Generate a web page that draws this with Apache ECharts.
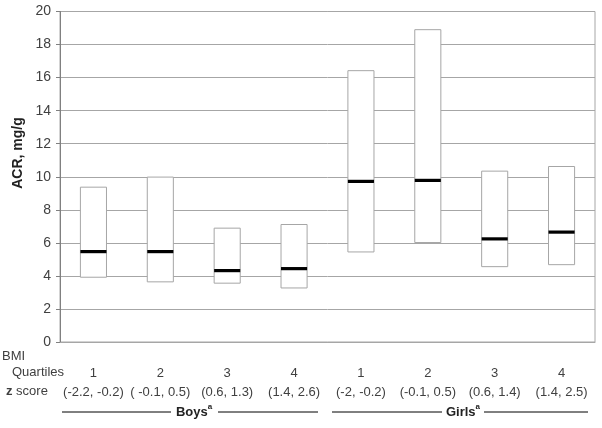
<!DOCTYPE html>
<html>
<head>
<meta charset="utf-8">
<script src="https://cdn.jsdelivr.net/npm/echarts@6/dist/echarts.min.js"></script>
<style>html,body{margin:0;padding:0;background:#fff}#c{width:602px;height:428px}</style>
</head>
<body>
<div id="c"></div>
<script>
var quartiles = ['1','2','3','4','1','2','3','4'];
var zScores = ['(-2.2, -0.2)','( -0.1, 0.5)','(0.6, 1.3)','(1.4, 2.6)','(-2, -0.2)','(-0.1, 0.5)','(0.6, 1.4)','(1.4, 2.5)'];
var lowValues = [3.92, 3.64, 3.56, 3.27, 5.45, 6.02, 4.56, 4.68];
var medianValues = [5.47, 5.47, 4.32, 4.44, 9.72, 9.78, 6.24, 6.65];
var highValues = [9.37, 9.98, 6.89, 7.11, 16.42, 18.9, 10.34, 10.62];
var yTicks = [0, 2, 4, 6, 8, 10, 12, 14, 16, 18, 20];

var categories = quartiles.map(function(q, i){ return q + '|' + zScores[i]; });
var data = categories.map(function(c, i){ return [i, lowValues[i], medianValues[i], highValues[i]]; });

var FONT = '"Liberation Sans", Arial, sans-serif';
var chart = echarts.init(document.getElementById('c'));

function renderItem(params, api) {
  var x = api.value(0);
  var lo = api.coord([x, api.value(1)]);
  var hi = api.coord([x, api.value(3)]);
  var med = api.coord([x, api.value(2)]);
  var w = api.size([1, 0])[0] * 0.39;
  return {
    type: 'group',
    children: [
      { type: 'rect', shape: { x: lo[0] - w / 2, y: hi[1], width: w, height: lo[1] - hi[1] },
        style: { fill: '#fff', stroke: '#a6a6a6', lineWidth: 1 } },
      { type: 'line', shape: { x1: med[0] - w / 2, y1: med[1], x2: med[0] + w / 2, y2: med[1] },
        style: { stroke: '#000', lineWidth: 3.2 } }
    ]
  };
}

chart.setOption({
  animation: false,
  textStyle: { fontFamily: FONT },
  grid: { left: 60, right: 7, top: 11.5, bottom: 86, show: true, borderColor: '#a6a6a6', borderWidth: 1, backgroundColor: 'transparent' },
  xAxis: {
    type: 'category',
    data: categories,
    axisLine: { show: true, lineStyle: { color: '#a6a6a6' } },
    axisTick: { show: false },
    axisLabel: {
      margin: 22,
      interval: 0,
      fontFamily: FONT,
      fontSize: 13,
      color: '#404040',
      lineHeight: 19,
      formatter: function (v) { var p = v.split('|'); return p[0] + '\n' + p[1]; }
    }
  },
  yAxis: {
    type: 'value',
    min: 0, max: 20, interval: 2,
    axisLine: { show: true, lineStyle: { color: '#808080' } },
    axisTick: { show: true, length: 4, lineStyle: { color: '#808080' } },
    axisLabel: { fontFamily: FONT, fontSize: 14, color: '#404040', margin: 9,
      formatter: function (v) { return yTicks.indexOf(v) >= 0 ? String(v) : ''; } },
    splitLine: { show: true, lineStyle: { color: '#a6a6a6', width: 1 } }
  },
  series: [{
    type: 'custom',
    renderItem: renderItem,
    encode: { x: 0, y: [1, 2, 3] },
    data: data,
    z: 5
  }],
  graphic: [
    { type: 'text', left: 2, top: 350, style: { text: 'BMI', font: '13px ' + FONT, fill: '#404040' } },
    { type: 'text', left: 12, top: 366, style: { text: 'Quartiles', font: '13px ' + FONT, fill: '#404040' } },
    { type: 'text', left: 6, top: 385, style: { text: '{b|z} score', font: '13px ' + FONT, fill: '#404040',
        rich: { b: { fontWeight: 'bold', fontSize: 13, fontFamily: FONT, fill: '#404040' } } } },
    { type: 'text', x: 18, y: 153, rotation: Math.PI / 2,
      style: { text: 'ACR, mg/g', font: 'bold 14px ' + FONT, fill: '#222', align: 'center', verticalAlign: 'middle' } },
    { type: 'line', shape: { x1: 62, y1: 412, x2: 171, y2: 412 }, style: { stroke: '#000', lineWidth: 1 } },
    { type: 'line', shape: { x1: 218, y1: 412, x2: 318, y2: 412 }, style: { stroke: '#000', lineWidth: 1 } },
    { type: 'text', x: 194, y: 412, style: { text: 'Boys{s|a}', font: 'bold 13px ' + FONT, fill: '#222', align: 'center', verticalAlign: 'middle',
        rich: { s: { fontSize: 8, fontWeight: 'bold', fontFamily: FONT, verticalAlign: 'top', padding: [0, 0, 10, 0], fill: '#222' } } } },
    { type: 'line', shape: { x1: 332, y1: 412, x2: 442, y2: 412 }, style: { stroke: '#000', lineWidth: 1 } },
    { type: 'line', shape: { x1: 484, y1: 412, x2: 588, y2: 412 }, style: { stroke: '#000', lineWidth: 1 } },
    { type: 'text', x: 463, y: 412, style: { text: 'Girls{s|a}', font: 'bold 13px ' + FONT, fill: '#222', align: 'center', verticalAlign: 'middle',
        rich: { s: { fontSize: 8, fontWeight: 'bold', fontFamily: FONT, verticalAlign: 'top', padding: [0, 0, 10, 0], fill: '#222' } } } }
  ]
});
</script>
</body>
</html>
